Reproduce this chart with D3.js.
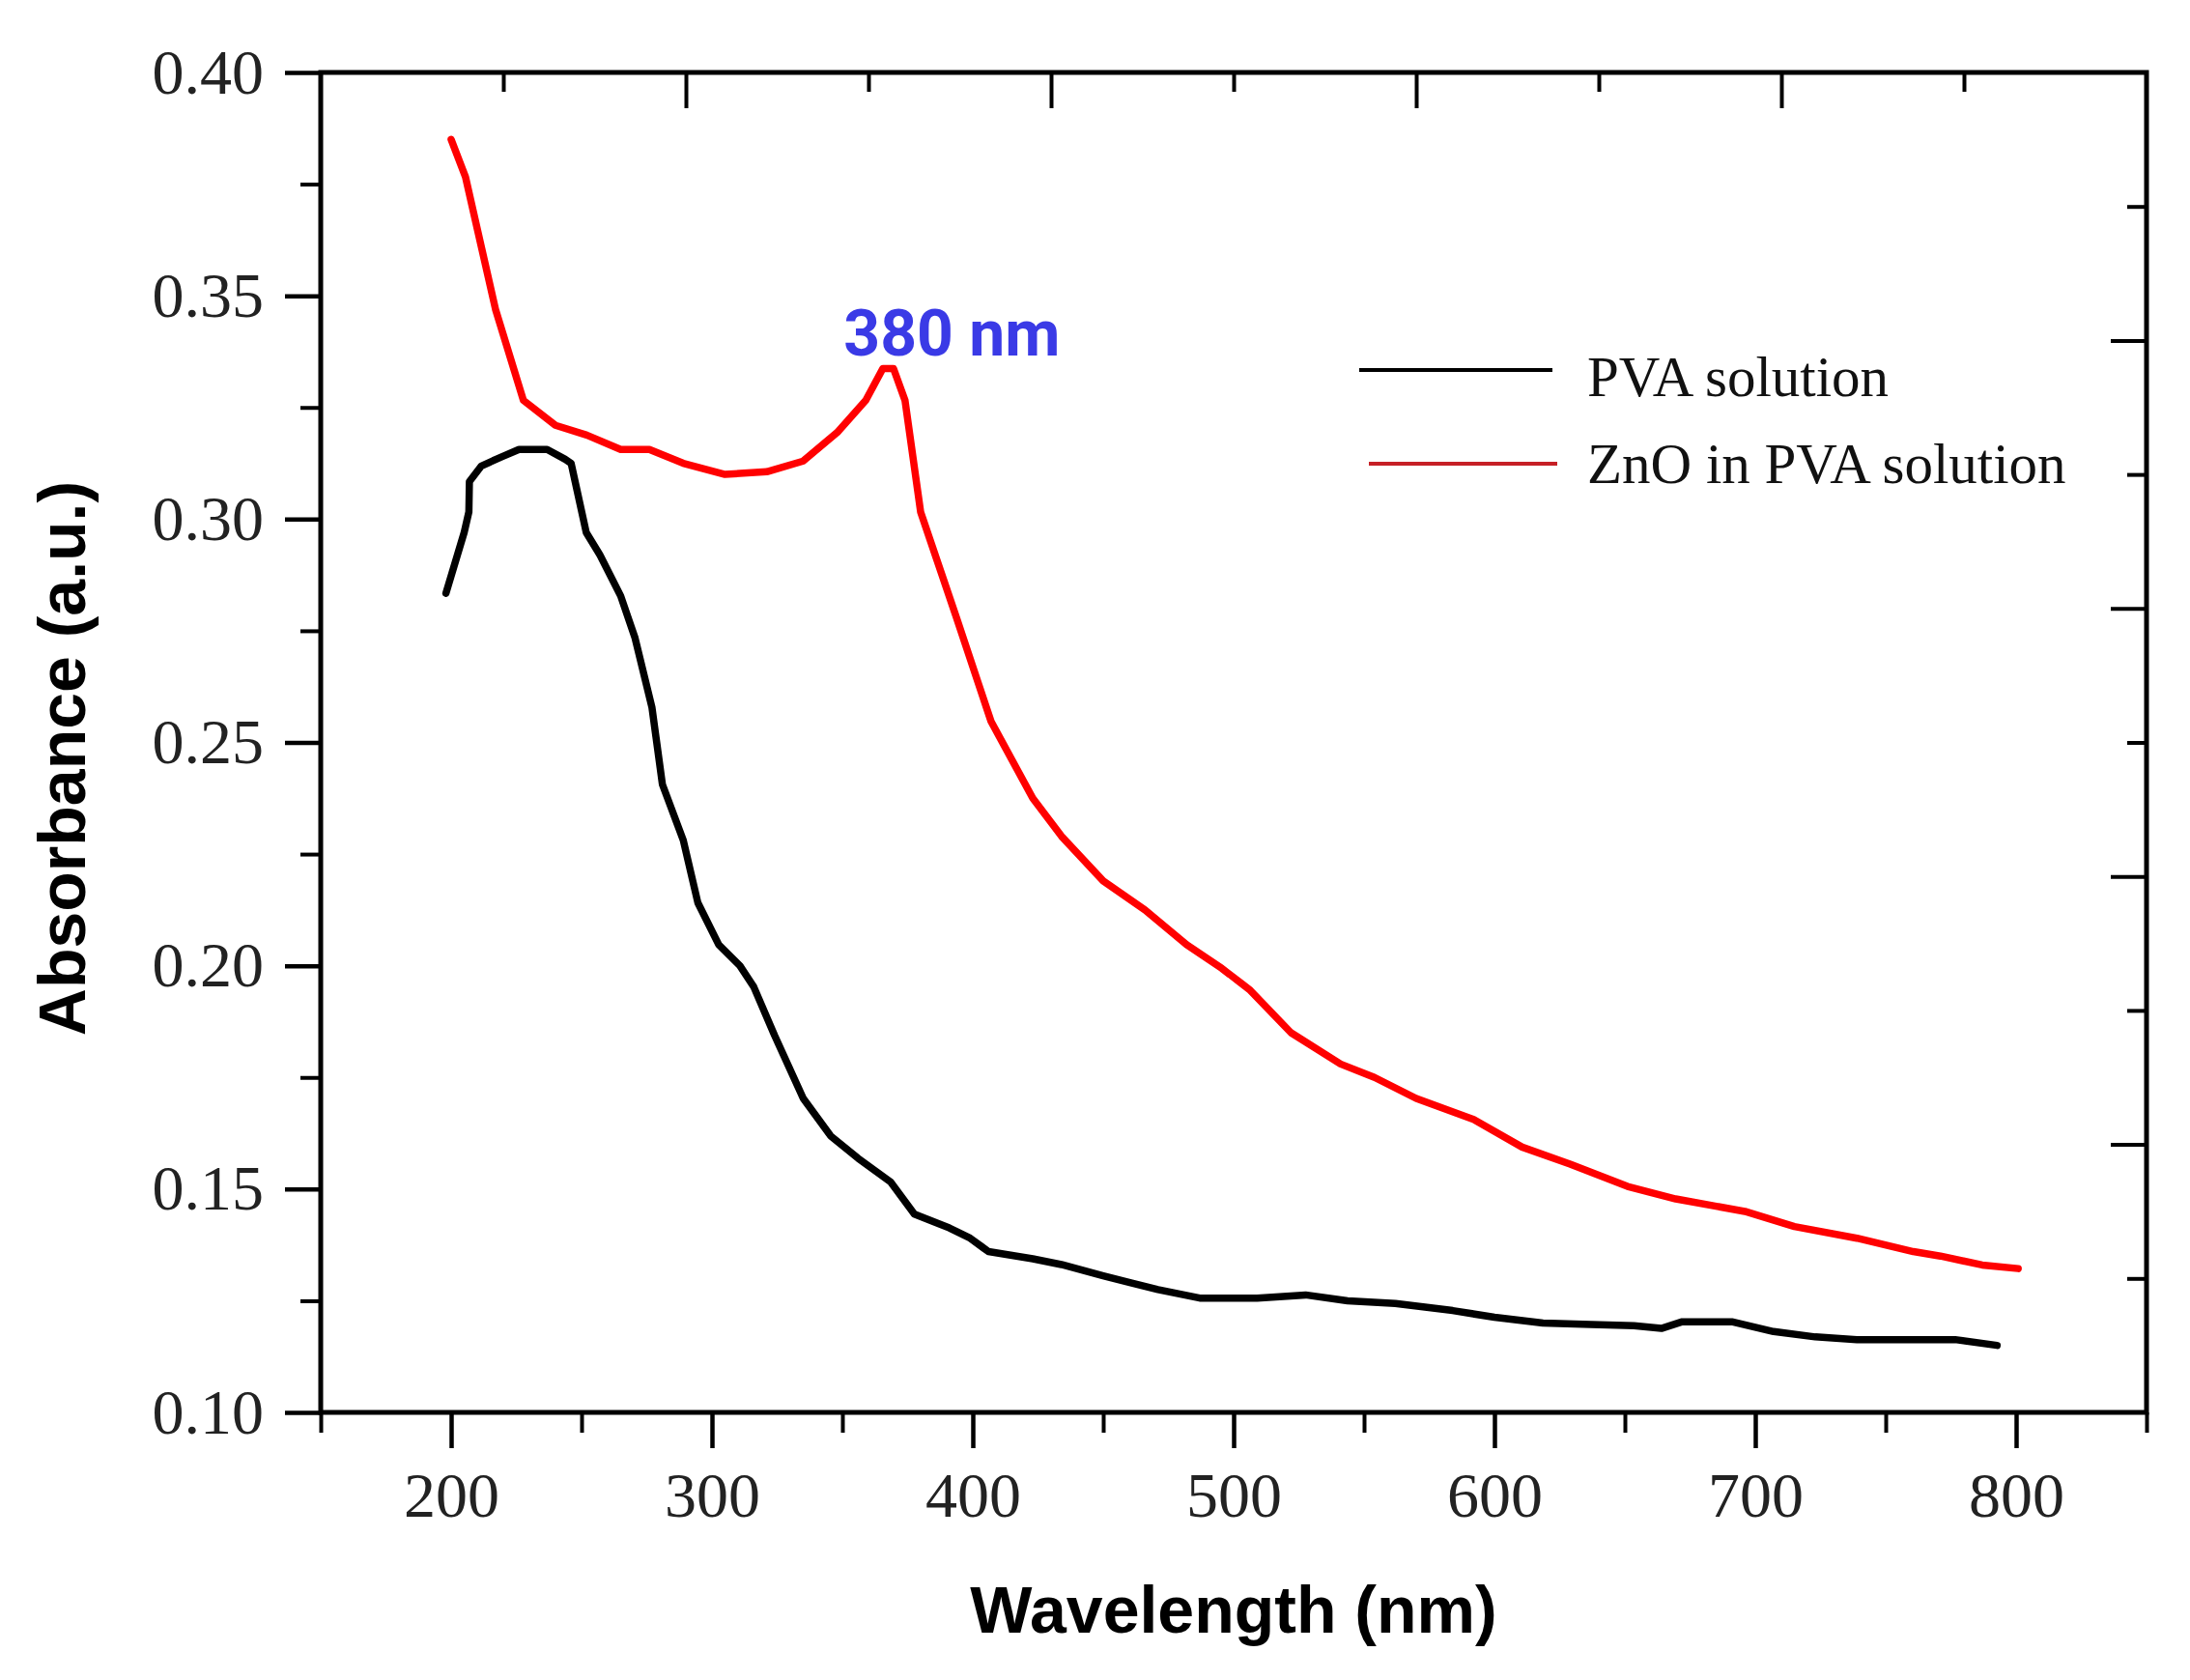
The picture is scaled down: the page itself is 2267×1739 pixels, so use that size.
<!DOCTYPE html>
<html>
<head>
<meta charset="utf-8">
<script src="https://cdn.jsdelivr.net/npm/d3@7"></script>
<style>
  body { margin: 0; background: #fff; }
  svg { display: block; }
  .tick text { font-family: "Liberation Serif", "Times New Roman", serif; fill: #222; }
</style>
</head>
<body>
<div id="chart"></div>
<script>
// PVA solution (black) - wavelength nm
var pvaWave = [198, 205, 206.8, 207, 211.6, 219.6, 226, 236.8, 243.7, 246, 251.8, 257, 265, 270.5, 277, 281,
  289, 294.6, 302.6, 310.7, 316, 324, 335, 345.5, 356, 368.5, 377.6, 391, 399, 406, 423, 434, 450, 460.6,
  471, 487, 509, 527.6, 543.7, 562, 584, 600, 618.6, 637, 653.5, 664, 672, 691, 707, 723, 739, 766, 776.6, 792.7];
var pvaAbs = [0.2834, 0.297, 0.3016, 0.3084, 0.3119, 0.314, 0.3156, 0.3156, 0.3134, 0.3125, 0.297, 0.292, 0.2828,
  0.2734, 0.2578, 0.2406, 0.2281, 0.2141, 0.2047, 0.2, 0.1953, 0.1844, 0.1703, 0.1619, 0.1569, 0.1516, 0.1444,
  0.1413, 0.139, 0.136, 0.1344, 0.1331, 0.1306, 0.129, 0.1275, 0.1256, 0.1256, 0.1263, 0.125, 0.1244, 0.1228,
  0.1213, 0.12, 0.1197, 0.1194, 0.1188, 0.1203, 0.1203, 0.1181, 0.1169, 0.1163, 0.1163, 0.1163, 0.115];

// ZnO in PVA solution (red)
var znoWave = [200, 205.5, 217, 227.7, 240, 252, 265, 276, 289, 305, 321, 335, 348, 359, 365.5, 369.6, 374, 380,
  393.7, 407, 423, 434, 450, 466, 482, 495.5, 506, 522, 541, 554, 570, 592, 610.6, 629, 651, 669.5, 696, 715,
  739, 760.6, 771, 787, 800.8];
var znoAbs = [0.385, 0.3766, 0.347, 0.3266, 0.321, 0.3188, 0.3156, 0.3156, 0.3125, 0.31, 0.3106, 0.313, 0.3194,
  0.3266, 0.3337, 0.3337, 0.3266, 0.3016, 0.278, 0.2547, 0.2375, 0.229, 0.219, 0.2125, 0.2047, 0.1994, 0.1947,
  0.185, 0.178, 0.175, 0.1703, 0.1656, 0.1594, 0.1556, 0.1506, 0.1478, 0.145, 0.1416, 0.139, 0.136, 0.135,
  0.133, 0.1322];

var xTicks = [200, 300, 400, 500, 600, 700, 800];
var yTicks = [0.10, 0.15, 0.20, 0.25, 0.30, 0.35, 0.40];
var legendNames = ["PVA solution", "ZnO in PVA solution"];
var peakLabel = "380 nm";

var W = 2267, H = 1739;
var margin = {top: 75, right: 45, bottom: 277, left: 332};
var width = W - margin.left - margin.right,
    height = H - margin.top - margin.bottom;

var svg = d3.select("#chart").append("svg")
    .attr("width", W)
    .attr("height", H);

svg.append("rect").attr("width", W).attr("height", H).attr("fill", "#fff");

var g = svg.append("g")
    .attr("transform", "translate(" + margin.left + "," + margin.top + ")");

var x = d3.scaleLinear().domain([150, 850]).range([0, width]);
var y = d3.scaleLinear().domain([0.10, 0.40]).range([height, 0]);
// top / right axes carry their own tick divisions (tenths of the frame)
var fx = d3.scaleLinear().domain([0, 1]).range([0, width]);
var fy = d3.scaleLinear().domain([0, 1]).range([0, height]);

function styleAxis(sel, w) {
  sel.select(".domain").remove();
  sel.selectAll(".tick line").attr("stroke", "#000").attr("stroke-width", w);
}

// minor ticks
g.append("g")
    .attr("transform", "translate(0," + height + ")")
    .call(d3.axisBottom(x).tickValues([150, 250, 350, 450, 550, 650, 750, 850]).tickSize(21).tickFormat(""))
    .call(styleAxis, 4);
g.append("g")
    .call(d3.axisLeft(y).tickValues([0.125, 0.175, 0.225, 0.275, 0.325, 0.375]).tickSize(21).tickFormat(""))
    .call(styleAxis, 4);

// major ticks with labels
var xAxis = g.append("g")
    .attr("transform", "translate(0," + height + ")")
    .call(d3.axisBottom(x).tickValues(xTicks).tickSize(37).tickPadding(24).tickFormat(d3.format("d")))
    .call(styleAxis, 4.5);
xAxis.selectAll(".tick text").style("font-size", "66px").attr("dy", "0.71em");

var yAxis = g.append("g")
    .call(d3.axisLeft(y).tickValues(yTicks).tickSize(37).tickPadding(22).tickFormat(d3.format(".2f")))
    .call(styleAxis, 4.5);
yAxis.selectAll(".tick text").style("font-size", "66px");

// top and right inward ticks
var tenths = d3.range(1, 10).map(function(i) { return i / 10; });
g.append("g")
    .call(d3.axisBottom(fx).tickValues(tenths).tickSizeOuter(0)
      .tickSize(37).tickFormat(""))
    .call(styleAxis, 4)
    .selectAll(".tick line")
    .attr("y2", function(d, i) { return i % 2 ? 37 : 20; });
g.append("g")
    .attr("transform", "translate(" + width + ",0)")
    .call(d3.axisLeft(fy).tickValues(tenths).tickSize(37).tickFormat(""))
    .call(styleAxis, 4)
    .selectAll(".tick line")
    .attr("x2", function(d, i) { return i % 2 ? -37 : -20; });

// frame
g.append("rect")
    .attr("width", width)
    .attr("height", height)
    .attr("fill", "none")
    .attr("stroke", "#000")
    .attr("stroke-width", 5);

// lines
var line = d3.line()
    .x(function(d) { return x(d[0]); })
    .y(function(d) { return y(d[1]); });

g.append("path")
    .datum(d3.zip(pvaWave, pvaAbs))
    .attr("fill", "none")
    .attr("stroke", "#000")
    .attr("stroke-width", 7.5)
    .attr("stroke-linejoin", "round")
    .attr("stroke-linecap", "round")
    .attr("d", line);

g.append("path")
    .datum(d3.zip(znoWave, znoAbs))
    .attr("fill", "none")
    .attr("stroke", "#ff0000")
    .attr("stroke-width", 7.5)
    .attr("stroke-linejoin", "round")
    .attr("stroke-linecap", "round")
    .attr("d", line);

// peak label
g.append("text")
    .attr("x", x(392))
    .attr("y", y(0.3337) - 14)
    .attr("text-anchor", "middle")
    .style("font-family", "Roboto, 'Liberation Sans', sans-serif")
    .style("font-weight", "bold")
    .style("font-size", "66px")
    .style("fill", "#3a3ae6")
    .text(peakLabel);

// legend
var legendColors = ["#000", "#c62026"];
var legend = g.selectAll(".legend")
    .data(legendNames)
  .enter().append("g")
    .attr("class", "legend")
    .attr("transform", function(d, i) { return "translate(" + (1075 + i * 10) + "," + (308 + i * 97) + ")"; });

legend.append("line")
    .attr("x1", 0)
    .attr("x2", function(d, i) { return 200 - i * 5; })
    .attr("stroke", function(d, i) { return legendColors[i]; })
    .attr("stroke-width", 4);

legend.append("text")
    .attr("x", function(d, i) { return 236 - i * 10; })
    .attr("y", function(d, i) { return i ? 20 : 27; })
    .style("font-family", "'Liberation Serif', 'Times New Roman', serif")
    .style("font-size", "59px")
    .style("fill", "#111")
    .text(function(d) { return d; });

// axis titles
svg.append("text")
    .attr("x", margin.left + width / 2)
    .attr("y", 1690)
    .attr("text-anchor", "middle")
    .style("font-family", "'Liberation Sans', Arial, sans-serif")
    .style("font-weight", "bold")
    .style("font-size", "68px")
    .text("Wavelength (nm)");

svg.append("text")
    .attr("transform", "translate(88,785) rotate(-90)")
    .attr("text-anchor", "middle")
    .style("font-family", "'Liberation Sans', Arial, sans-serif")
    .style("font-weight", "bold")
    .style("font-size", "68px")
    .text("Absorbance (a.u.)");
</script>
</body>
</html>
